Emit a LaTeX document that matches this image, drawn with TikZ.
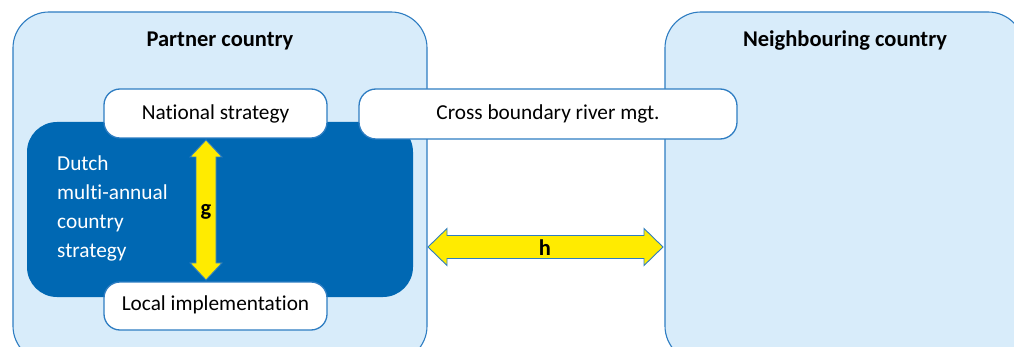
\documentclass[tikz,border=0pt]{standalone}
\usepackage{fontspec}
\setmainfont{Carlito}[Ligatures={NoCommon}]
\usetikzlibrary{calc}
\definecolor{lightfill}{HTML}{D8ECFA}
\definecolor{edgeblue}{HTML}{2E7DC2}
\definecolor{darkblue}{HTML}{0068B3}
\definecolor{yel}{HTML}{FFEB00}
\tikzset{
  country/.style={draw=edgeblue, line width=1.1pt, fill=lightfill, rounded corners=36pt},
  whitebox/.style={draw=edgeblue, line width=1.3pt, fill=white, rounded corners=16pt, inner sep=0pt},
  boxtext/.style={font=\fontsize{21.3}{24}\selectfont, text=black},
  titletext/.style={font=\fontsize{22.5}{26}\selectfont\bfseries, text=black},
  yarrow/.style={draw=edgeblue, line width=0.9pt, fill=yel, line join=miter},
}
\begin{document}
\begin{tikzpicture}[x=1pt,y=-1pt]
\clip (0,0) rectangle (1014,347);
\fill[white] (0,0) rectangle (1014,347);
% countries
\draw[country] (13,12) rectangle (427,362);
\draw[country] (665,12) rectangle (1024,362);
\node[titletext] (pc) at (220,41) {Partner country};
\node[titletext] (nc) at (845,41) {Neighbouring country};
% Dutch strategy box
\fill[darkblue, rounded corners=30pt] (27,122) rectangle (413,297);
\node[anchor=base west, align=left, text=white, inner sep=0pt,
      font=\fontsize{21.3}{29.3}\selectfont] (dutch) at (57,258)
      {Dutch\\multi-annual\\country\\strategy};
% white boxes
\draw[whitebox] (104,89) rectangle (327,138);
\node[boxtext] (ns) at (215.5,113.5) {National strategy};
\draw[whitebox] (104,282) rectangle (327,330);
\node[boxtext] (li) at (215.5,305) {Local implementation};
\draw[whitebox, rounded corners=17pt] (359,89) rectangle (737,139);
\node[boxtext] (cb) at (548,113.5) {Cross boundary river mgt.};
% g arrow
\coordinate (g1) at (206,140);
\coordinate (g2) at (206,280);
\draw[yarrow] (g1) -- ($(g1)+(16,17)$) -- ($(g1)+(10,17)$) -- ($(g2)+(10,-17)$)
  -- ($(g2)+(16,-17)$) -- (g2) -- ($(g2)+(-16,-17)$) -- ($(g2)+(-10,-17)$)
  -- ($(g1)+(-10,17)$) -- ($(g1)+(-16,17)$) -- cycle;
\node[font=\fontsize{22.5}{24}\selectfont\bfseries] (g) at (206,212) {g};
% h arrow
\coordinate (h1) at (428,247);
\coordinate (h2) at (663,247);
\draw[yarrow] (h1) -- ($(h1)+(19,-18.5)$) -- ($(h1)+(19,-11.5)$) -- ($(h2)+(-19,-11.5)$)
  -- ($(h2)+(-19,-18.5)$) -- (h2) -- ($(h2)+(-19,18.5)$) -- ($(h2)+(-19,11.5)$)
  -- ($(h1)+(19,11.5)$) -- ($(h1)+(19,18.5)$) -- cycle;
\node[font=\fontsize{22.5}{24}\selectfont\bfseries] (h) at (545,248) {h};
\end{tikzpicture}
\end{document}
